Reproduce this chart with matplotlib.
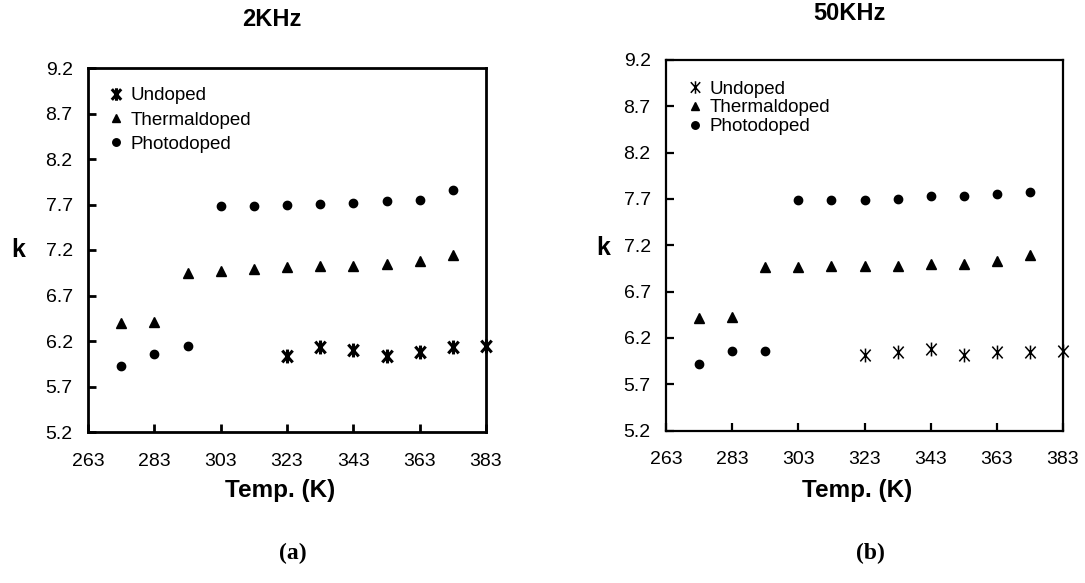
import matplotlib
matplotlib.use("Agg")
import matplotlib.pyplot as plt
from matplotlib.path import Path

plt.rcParams['font.family'] = ['Liberation Sans', 'DejaVu Sans']

W, H = 1085, 583

# temperatures (K)
temps = [273, 283, 293, 303, 313, 323, 333, 343, 353, 363, 373]
temps_undoped = [323, 333, 343, 353, 363, 373, 383]

# 2 KHz
undoped_2k = [6.03, 6.13, 6.10, 6.03, 6.08, 6.13, 6.15]
thermal_2k = [6.40, 6.41, 6.95, 6.97, 6.99, 7.01, 7.02, 7.02, 7.05, 7.08, 7.14]
photo_2k = [5.93, 6.06, 6.15, 7.68, 7.68, 7.69, 7.71, 7.72, 7.74, 7.75, 7.86]

# 50 KHz
undoped_50k = [6.02, 6.045, 6.08, 6.02, 6.045, 6.045, 6.06]
thermal_50k = [6.41, 6.42, 6.97, 6.97, 6.98, 6.98, 6.98, 7.00, 7.00, 7.03, 7.09]
photo_50k = [5.92, 6.06, 6.06, 7.69, 7.69, 7.69, 7.70, 7.73, 7.73, 7.75, 7.77]

xticks = [263, 283, 303, 323, 343, 363, 383]
yticks = [5.2, 5.7, 6.2, 6.7, 7.2, 7.7, 8.2, 8.7, 9.2]

# asterisk: X with a vertical bar
star = Path([(0, -1), (0, 1), (-0.75, -0.85), (0.75, 0.85), (-0.75, 0.85), (0.75, -0.85)],
            [Path.MOVETO, Path.LINETO, Path.MOVETO, Path.LINETO, Path.MOVETO, Path.LINETO])


def fx(x):
    return x / W


def fy(y):
    return 1 - y / H


def box(x0, y0, x1, y1):
    return [fx(x0), fy(y1), fx(x1) - fx(x0), fy(y0) - fy(y1)]


def panel(ax, und, therm, photo, spine_w, star_w, leg_spacing, leg_anchor):
    ax.plot(temps_undoped, und, linestyle='none', marker=star, markersize=10,
            markeredgewidth=star_w, color='black', clip_on=False, zorder=5,
            label='Undoped')
    ax.plot(temps, therm, linestyle='none', marker='^', markersize=6.5,
            color='black', clip_on=False, zorder=5, label='Thermaldoped')
    ax.plot(temps, photo, linestyle='none', marker='o', markersize=6,
            color='black', clip_on=False, zorder=5, label='Photodoped')
    ax.set_xlim(263, 383)
    ax.set_ylim(5.2, 9.2)
    ax.set_xticks(xticks)
    ax.set_yticks(yticks)
    ax.set_yticklabels(['%.1f' % v for v in yticks])
    ax.tick_params(axis='both', direction='in', length=6, width=spine_w,
                   labelsize=14, colors='black')
    ax.tick_params(axis='x', pad=15)
    ax.tick_params(axis='y', pad=11)
    for s in ax.spines.values():
        s.set_linewidth(spine_w)
    ax.legend(loc='upper left', bbox_to_anchor=leg_anchor, frameon=False,
              fontsize=13.5, handlelength=0.8, handletextpad=0.35,
              labelspacing=leg_spacing, borderpad=0, borderaxespad=0,
              markerscale=0.9)


fig = plt.figure(figsize=(W / 100, H / 100), dpi=100)

ax1 = fig.add_axes(box(88, 68, 486, 432))
panel(ax1, undoped_2k, thermal_2k, photo_2k, 2.0, 2.2, 0.38, (0.052, 0.947))

ax2 = fig.add_axes(box(666, 60, 1063, 430.5))
panel(ax2, undoped_50k, thermal_50k, photo_50k, 1.6, 1.1, 0.09, (0.055, 0.945))

fig.text(fx(272), fy(20), '2KHz', fontsize=17, fontweight='bold', ha='center', va='center')
fig.text(fx(849), fy(14), '50KHz', fontsize=17, fontweight='bold', ha='center', va='center')

fig.text(fx(18), fy(250), 'k', fontsize=18, fontweight='bold', ha='center', va='center')
fig.text(fx(603), fy(248), 'k', fontsize=18, fontweight='bold', ha='center', va='center')

fig.text(fx(280), fy(490), 'Temp. (K)', fontsize=17.5, fontweight='bold', ha='center', va='center')
fig.text(fx(857), fy(491), 'Temp. (K)', fontsize=17.5, fontweight='bold', ha='center', va='center')

fig.text(fx(293), fy(553), '(a)', fontsize=17, fontweight='bold', ha='center', va='center',
         family=['Liberation Serif', 'DejaVu Serif'])
fig.text(fx(870), fy(553), '(b)', fontsize=17, fontweight='bold', ha='center', va='center',
         family=['Liberation Serif', 'DejaVu Serif'])

fig.savefig('out.png', dpi=100)
